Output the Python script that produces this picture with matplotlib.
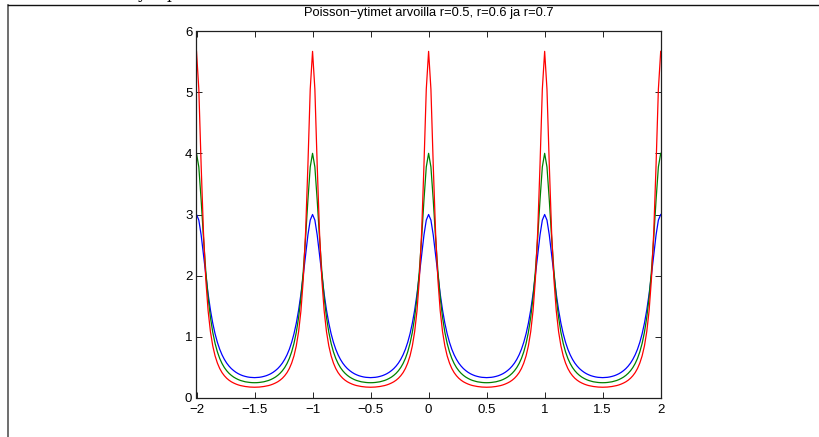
import numpy as np
import matplotlib
matplotlib.use("Agg")
import matplotlib.pyplot as plt
from matplotlib.lines import Line2D

plt.rcParams['font.family'] = ['Liberation Sans', 'DejaVu Sans']

title = "Poisson\u2212ytimet arvoilla r=0.5, r=0.6 ja r=0.7"
x = np.linspace(-2, 2, 201)

p05 = [
    3.000, 2.908, 2.665, 2.342, 2.007, 1.701, 1.439, 1.224, 1.050, 0.910, 0.797, 0.706, 0.632, 0.571, 0.522, 0.481, 0.448, 0.420, 0.397, 0.379, 0.364, 0.353, 0.344, 0.338, 0.335, 0.333, 0.335, 0.338, 0.344, 0.353, 0.364, 0.379, 0.397, 0.420, 0.448, 0.481, 0.522, 0.571, 0.632, 0.706, 0.797, 0.910, 1.050, 1.224, 1.439, 1.701, 2.007, 2.342, 2.665, 2.908,
    3.000, 2.908, 2.665, 2.342, 2.007, 1.701, 1.439, 1.224, 1.050, 0.910, 0.797, 0.706, 0.632, 0.571, 0.522, 0.481, 0.448, 0.420, 0.397, 0.379, 0.364, 0.353, 0.344, 0.338, 0.335, 0.333, 0.335, 0.338, 0.344, 0.353, 0.364, 0.379, 0.397, 0.420, 0.448, 0.481, 0.522, 0.571, 0.632, 0.706, 0.797, 0.910, 1.050, 1.224, 1.439, 1.701, 2.007, 2.342, 2.665, 2.908,
    3.000, 2.908, 2.665, 2.342, 2.007, 1.701, 1.439, 1.224, 1.050, 0.910, 0.797, 0.706, 0.632, 0.571, 0.522, 0.481, 0.448, 0.420, 0.397, 0.379, 0.364, 0.353, 0.344, 0.338, 0.335, 0.333, 0.335, 0.338, 0.344, 0.353, 0.364, 0.379, 0.397, 0.420, 0.448, 0.481, 0.522, 0.571, 0.632, 0.706, 0.797, 0.910, 1.050, 1.224, 1.439, 1.701, 2.007, 2.342, 2.665, 2.908,
    3.000, 2.908, 2.665, 2.342, 2.007, 1.701, 1.439, 1.224, 1.050, 0.910, 0.797, 0.706, 0.632, 0.571, 0.522, 0.481, 0.448, 0.420, 0.397, 0.379, 0.364, 0.353, 0.344, 0.338, 0.335, 0.333, 0.335, 0.338, 0.344, 0.353, 0.364, 0.379, 0.397, 0.420, 0.448, 0.481, 0.522, 0.571, 0.632, 0.706, 0.797, 0.910, 1.050, 1.224, 1.439, 1.701, 2.007, 2.342, 2.665, 2.908,
    3.000,
]

p06 = [
    4.000, 3.777, 3.237, 2.620, 2.075, 1.644, 1.319, 1.075, 0.893, 0.754, 0.647, 0.564, 0.498, 0.446, 0.404, 0.370, 0.342, 0.320, 0.301, 0.286, 0.275, 0.265, 0.259, 0.254, 0.251, 0.250, 0.251, 0.254, 0.259, 0.265, 0.275, 0.286, 0.301, 0.320, 0.342, 0.370, 0.404, 0.446, 0.498, 0.564, 0.647, 0.754, 0.893, 1.075, 1.319, 1.644, 2.075, 2.620, 3.237, 3.777,
    4.000, 3.777, 3.237, 2.620, 2.075, 1.644, 1.319, 1.075, 0.893, 0.754, 0.647, 0.564, 0.498, 0.446, 0.404, 0.370, 0.342, 0.320, 0.301, 0.286, 0.275, 0.265, 0.259, 0.254, 0.251, 0.250, 0.251, 0.254, 0.259, 0.265, 0.275, 0.286, 0.301, 0.320, 0.342, 0.370, 0.404, 0.446, 0.498, 0.564, 0.647, 0.754, 0.893, 1.075, 1.319, 1.644, 2.075, 2.620, 3.237, 3.777,
    4.000, 3.777, 3.237, 2.620, 2.075, 1.644, 1.319, 1.075, 0.893, 0.754, 0.647, 0.564, 0.498, 0.446, 0.404, 0.370, 0.342, 0.320, 0.301, 0.286, 0.275, 0.265, 0.259, 0.254, 0.251, 0.250, 0.251, 0.254, 0.259, 0.265, 0.275, 0.286, 0.301, 0.320, 0.342, 0.370, 0.404, 0.446, 0.498, 0.564, 0.647, 0.754, 0.893, 1.075, 1.319, 1.644, 2.075, 2.620, 3.237, 3.777,
    4.000, 3.777, 3.237, 2.620, 2.075, 1.644, 1.319, 1.075, 0.893, 0.754, 0.647, 0.564, 0.498, 0.446, 0.404, 0.370, 0.342, 0.320, 0.301, 0.286, 0.275, 0.265, 0.259, 0.254, 0.251, 0.250, 0.251, 0.254, 0.259, 0.265, 0.275, 0.286, 0.301, 0.320, 0.342, 0.370, 0.404, 0.446, 0.498, 0.564, 0.647, 0.754, 0.893, 1.075, 1.319, 1.644, 2.075, 2.620, 3.237, 3.777,
    4.000,
]

p07 = [
    5.667, 5.048, 3.806, 2.708, 1.938, 1.427, 1.086, 0.853, 0.689, 0.571, 0.482, 0.415, 0.364, 0.323, 0.291, 0.265, 0.245, 0.228, 0.214, 0.203, 0.195, 0.188, 0.183, 0.179, 0.177, 0.176, 0.177, 0.179, 0.183, 0.188, 0.195, 0.203, 0.214, 0.228, 0.245, 0.265, 0.291, 0.323, 0.364, 0.415, 0.482, 0.571, 0.689, 0.853, 1.086, 1.427, 1.938, 2.708, 3.806, 5.048,
    5.667, 5.048, 3.806, 2.708, 1.938, 1.427, 1.086, 0.853, 0.689, 0.571, 0.482, 0.415, 0.364, 0.323, 0.291, 0.265, 0.245, 0.228, 0.214, 0.203, 0.195, 0.188, 0.183, 0.179, 0.177, 0.176, 0.177, 0.179, 0.183, 0.188, 0.195, 0.203, 0.214, 0.228, 0.245, 0.265, 0.291, 0.323, 0.364, 0.415, 0.482, 0.571, 0.689, 0.853, 1.086, 1.427, 1.938, 2.708, 3.806, 5.048,
    5.667, 5.048, 3.806, 2.708, 1.938, 1.427, 1.086, 0.853, 0.689, 0.571, 0.482, 0.415, 0.364, 0.323, 0.291, 0.265, 0.245, 0.228, 0.214, 0.203, 0.195, 0.188, 0.183, 0.179, 0.177, 0.176, 0.177, 0.179, 0.183, 0.188, 0.195, 0.203, 0.214, 0.228, 0.245, 0.265, 0.291, 0.323, 0.364, 0.415, 0.482, 0.571, 0.689, 0.853, 1.086, 1.427, 1.938, 2.708, 3.806, 5.048,
    5.667, 5.048, 3.806, 2.708, 1.938, 1.427, 1.086, 0.853, 0.689, 0.571, 0.482, 0.415, 0.364, 0.323, 0.291, 0.265, 0.245, 0.228, 0.214, 0.203, 0.195, 0.188, 0.183, 0.179, 0.177, 0.176, 0.177, 0.179, 0.183, 0.188, 0.195, 0.203, 0.214, 0.228, 0.245, 0.265, 0.291, 0.323, 0.364, 0.415, 0.482, 0.571, 0.689, 0.853, 1.086, 1.427, 1.938, 2.708, 3.806, 5.048,
    5.667,
]

xticks = [-2, -1.5, -1, -0.5, 0, 0.5, 1, 1.5, 2]
yticks = [0, 1, 2, 3, 4, 5, 6]

fig = plt.figure(figsize=(8.2, 4.37), dpi=100)
ax = fig.add_axes([196.5 / 820, 39 / 437, 464.2 / 820, 367 / 437])

ax.plot(x, p05, color=(0, 0, 1), lw=0.9)
ax.plot(x, p06, color=(0, 0.5, 0), lw=0.9)
ax.plot(x, p07, color=(1, 0, 0), lw=0.9)

ax.set_xlim(-2, 2)
ax.set_ylim(0, 6)
ax.set_xticks(xticks)
ax.set_xticklabels([f"{t:g}".replace("-", "\u2212") for t in xticks])
ax.set_yticks(yticks)
ax.tick_params(direction='in', length=4, width=0.6, top=True, right=True,
               labelsize=9.5, colors='black')
ax.tick_params(axis='x', pad=4.5)
ax.tick_params(axis='y', pad=3)
for s in ax.spines.values():
    s.set_linewidth(0.9)
    s.set_color('#202020')
ax.set_title(title, fontsize=9.3, pad=11)

# page border lines from surrounding document
fig.add_artist(Line2D([8 / 820, 8 / 820], [0, 1 - 5 / 437], transform=fig.transFigure,
                      color='#555555', lw=1.2))
fig.add_artist(Line2D([8 / 820, 1], [1 - 5 / 437, 1 - 5 / 437], transform=fig.transFigure,
                      color='#111111', lw=1.0))
fig.text(137 / 820, 1 + 1 / 437, 'y', family='DejaVu Serif', fontsize=11, va='baseline')
fig.text(167 / 820, 1 + 1 / 437, 'p', family='DejaVu Serif', fontsize=11, va='baseline')

fig.savefig("out.png", dpi=100, facecolor='white')
